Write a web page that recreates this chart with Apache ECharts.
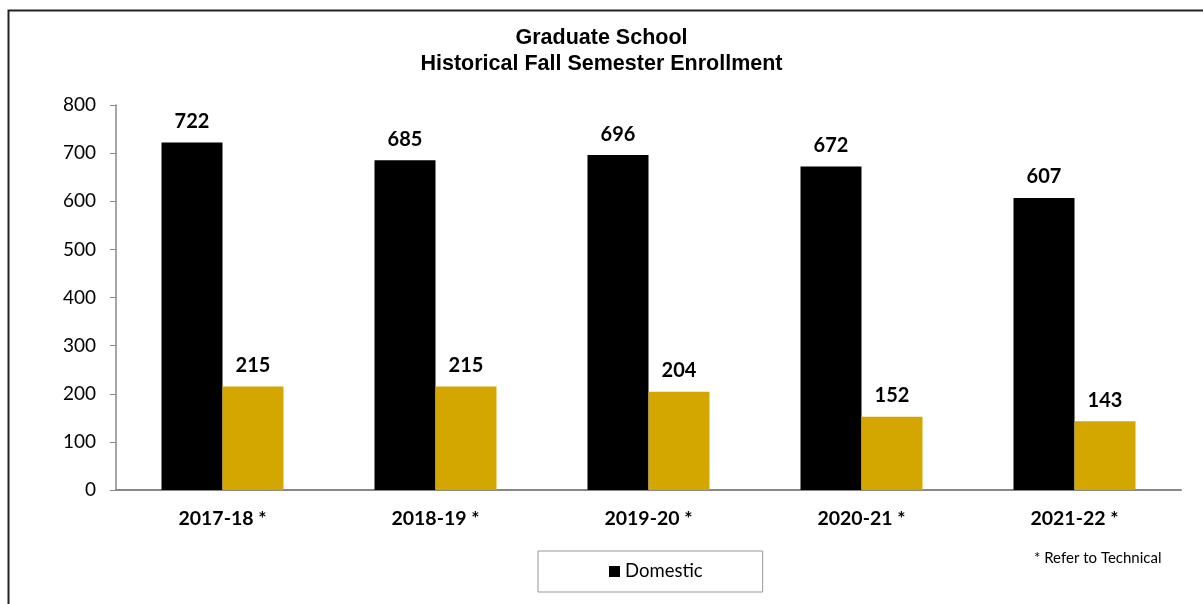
<!DOCTYPE html>
<html>
<head>
<meta charset="utf-8">
<script src="https://cdn.jsdelivr.net/npm/echarts@6/dist/echarts.min.js"></script>
<style>html,body{margin:0;padding:0;background:#fff;}#c{width:1203px;height:604px;}</style>
</head>
<body>
<div id="c"></div>
<script>
var categories = ['2017-18 *', '2018-19 *', '2019-20 *', '2020-21 *', '2021-22 *'];
var domestic = [722, 685, 696, 672, 607];
var international = [215, 215, 204, 152, 143];
var yTicks = [0, 100, 200, 300, 400, 500, 600, 700, 800];

var FONT = 'Lato, "Open Sans", sans-serif';
var chart = echarts.init(document.getElementById('c'));
var labelStyle = {show: true, position: 'top', distance: 11, fontFamily: FONT, fontWeight: 'bold', fontSize: 20, color: '#000'};
chart.setOption({
  animation: false,
  title: {
    text: 'Graduate School\nHistorical Fall Semester Enrollment',
    left: 'center', top: 20,
    textStyle: {fontFamily: '"Liberation Sans", Arial, sans-serif', fontWeight: 'bold', fontSize: 21.5, lineHeight: 26, color: '#000'}
  },
  legend: {
    data: ['Domestic'],
    left: 538, top: 551,
    padding: [11, 60, 11, 71],
    borderColor: '#999', borderWidth: 1,
    icon: 'rect', itemWidth: 11, itemHeight: 11, itemGap: 5,
    textStyle: {fontFamily: FONT, fontSize: 18.5, color: '#000'}
  },
  grid: {left: 116, right: 22, top: 105, bottom: 114, containLabel: false},
  xAxis: {
    type: 'category', data: categories,
    axisLine: {lineStyle: {color: '#888', width: 2}},
    axisTick: {show: false},
    axisLabel: {margin: 19, fontFamily: FONT, fontWeight: 'bold', fontSize: 19.5, color: '#000'}
  },
  yAxis: {
    type: 'value', min: 0, max: 800, interval: 100,
    axisLine: {show: true, lineStyle: {color: '#888', width: 1.5}},
    axisTick: {show: true, length: 6, lineStyle: {color: '#888'}},
    splitLine: {show: false},
    axisLabel: {margin: 20, fontFamily: FONT, fontSize: 19, color: '#000',
      formatter: function (v) { return yTicks.indexOf(v) >= 0 ? String(v) : ''; }}
  },
  series: [
    {name: 'Domestic', type: 'bar', data: domestic, barWidth: 61, barGap: '0%', itemStyle: {color: '#000'}, label: labelStyle},
    {name: 'International', type: 'bar', data: international, barWidth: 61, barGap: '0%', itemStyle: {color: '#D4A700'}, label: labelStyle}
  ],
  graphic: [
    {type: 'rect', left: 6, top: 8, shape: {width: 1300, height: 700}, style: {fill: 'none', stroke: '#222', lineWidth: 2}},
    {type: 'text', left: 1034, top: 551, style: {text: '* Refer to Technical', fontFamily: FONT, fontSize: 15, fill: '#000'}}
  ]
});
</script>
</body>
</html>
